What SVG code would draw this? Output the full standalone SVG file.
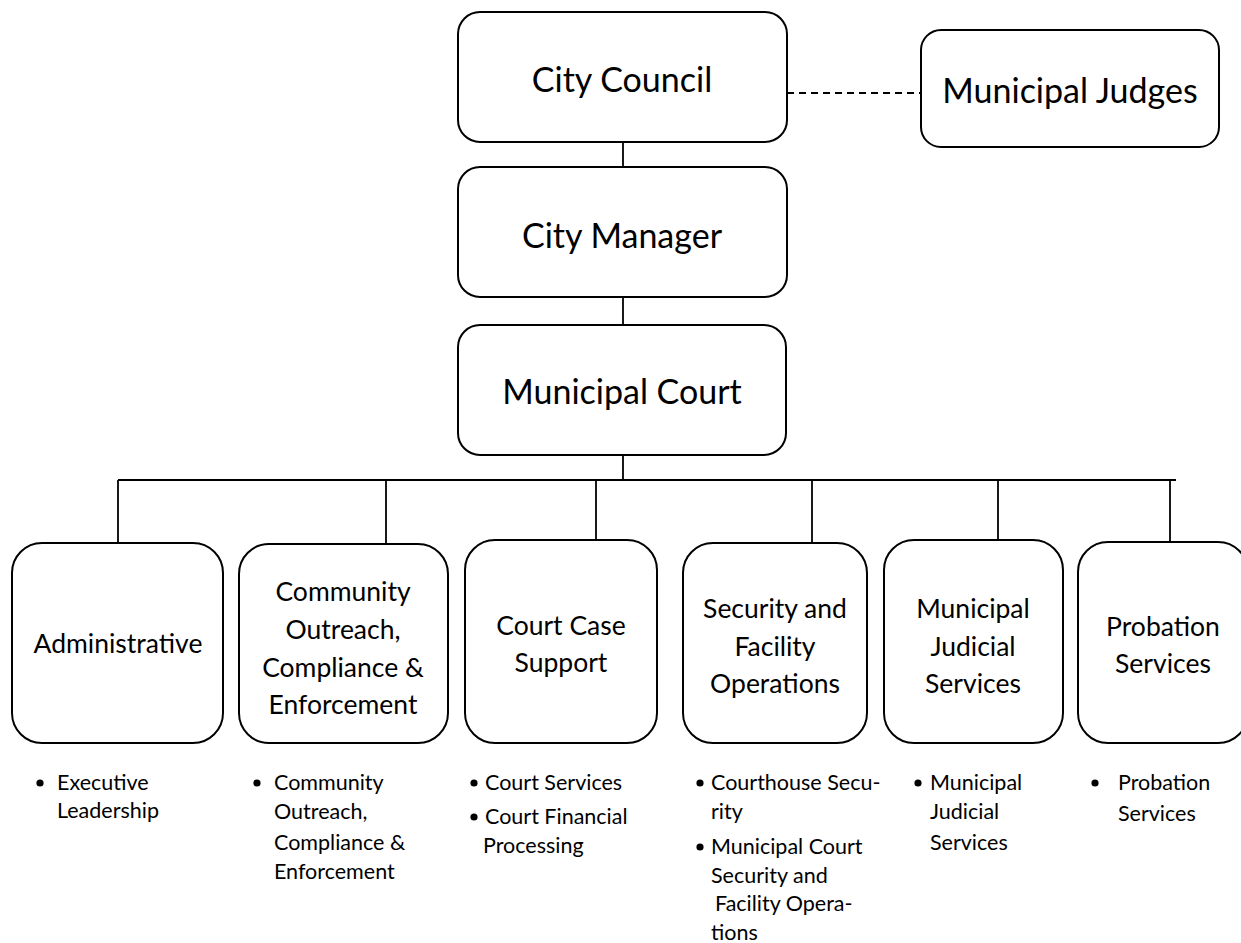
<svg xmlns="http://www.w3.org/2000/svg" width="1241" height="943" viewBox="0 0 1241 943">
  <style>
    .box { fill: #ffffff; stroke: #000000; stroke-width: 2; }
    .link { stroke: #000000; stroke-width: 1.8; fill: none; }
    .dash { stroke: #000000; stroke-width: 1.8; stroke-dasharray: 7 5; fill: none; }
    text { font-family: Lato, "Open Sans", sans-serif; fill: #000000; }
    .big { font-size: 34px; text-anchor: middle; }
    .mid { font-size: 26.5px; text-anchor: middle; }
    .small { font-size: 21.5px; }
    .dot { fill: #000000; }
  </style>
  <rect width="1241" height="943" fill="#ffffff"/>

  <!-- connectors -->
  <g id="connectors">
    <line class="dash" x1="787" y1="93" x2="921" y2="93"/>
    <line class="link" x1="623" y1="142" x2="623" y2="167"/>
    <line class="link" x1="623" y1="297" x2="623" y2="325"/>
    <line class="link" x1="623" y1="455" x2="623" y2="480"/>
    <line class="link" x1="118" y1="480" x2="1176" y2="480"/>
    <line class="link" x1="118" y1="480" x2="118" y2="543"/>
    <line class="link" x1="386" y1="481" x2="386" y2="544"/>
    <line class="link" x1="596" y1="481" x2="596" y2="540"/>
    <line class="link" x1="812" y1="481" x2="812" y2="543"/>
    <line class="link" x1="998" y1="481" x2="998" y2="540"/>
    <line class="link" x1="1170" y1="481" x2="1170" y2="542"/>
  </g>

  <!-- top chain -->
  <g id="city-council">
    <rect class="box" x="458" y="12" width="329" height="130" rx="22"/>
    <text class="big" x="622" y="92">City Council</text>
  </g>
  <g id="municipal-judges">
    <rect class="box" x="921" y="30" width="298" height="117" rx="20"/>
    <text class="big" x="1070" y="103">Municipal Judges</text>
  </g>
  <g id="city-manager">
    <rect class="box" x="458" y="167" width="329" height="130" rx="22"/>
    <text class="big" x="622" y="248">City Manager</text>
  </g>
  <g id="municipal-court">
    <rect class="box" x="458" y="325" width="328" height="130" rx="22"/>
    <text class="big" x="622" y="404">Municipal Court</text>
  </g>

  <!-- divisions -->
  <g id="administrative">
    <rect class="box" x="12" y="543" width="211" height="200" rx="30"/>
    <text class="mid" x="118" y="653">Administrative</text>
  </g>
  <g id="community-outreach">
    <rect class="box" x="239" y="544" width="209" height="199" rx="30"/>
    <text class="mid" x="343" y="601">Community</text>
    <text class="mid" x="343" y="639">Outreach,</text>
    <text class="mid" x="343" y="677">Compliance &amp;</text>
    <text class="mid" x="343" y="714">Enforcement</text>
  </g>
  <g id="court-case-support">
    <rect class="box" x="465" y="540" width="192" height="203" rx="30"/>
    <text class="mid" x="561" y="635">Court Case</text>
    <text class="mid" x="561" y="672">Support</text>
  </g>
  <g id="security-facility">
    <rect class="box" x="683" y="543" width="184" height="200" rx="30"/>
    <text class="mid" x="775" y="618">Security and</text>
    <text class="mid" x="775" y="656">Facility</text>
    <text class="mid" x="775" y="693">Operations</text>
  </g>
  <g id="municipal-judicial">
    <rect class="box" x="884" y="540" width="179" height="203" rx="30"/>
    <text class="mid" x="973" y="618">Municipal</text>
    <text class="mid" x="973" y="656">Judicial</text>
    <text class="mid" x="973" y="693">Services</text>
  </g>
  <g id="probation">
    <rect class="box" x="1078" y="542" width="170" height="201" rx="30"/>
    <text class="mid" x="1163" y="636">Probation</text>
    <text class="mid" x="1163" y="673">Services</text>
  </g>

  <!-- program lists -->
  <g id="list-administrative" class="small">
    <circle class="dot" cx="40" cy="783" r="3.6"/>
    <text x="57" y="790">Executive</text>
    <text x="57" y="818">Leadership</text>
  </g>
  <g id="list-community" class="small">
    <circle class="dot" cx="257" cy="783" r="3.6"/>
    <text x="274" y="790">Community</text>
    <text x="274" y="819">Outreach,</text>
    <text x="274" y="850">Compliance &amp;</text>
    <text x="274" y="879">Enforcement</text>
  </g>
  <g id="list-court-case" class="small">
    <circle class="dot" cx="474" cy="783" r="3.6"/>
    <text x="485" y="790">Court Services</text>
    <circle class="dot" cx="474" cy="817" r="3.6"/>
    <text x="485" y="824">Court Financial</text>
    <text x="483" y="853">Processing</text>
  </g>
  <g id="list-security" class="small">
    <circle class="dot" cx="700" cy="783" r="3.6"/>
    <text x="711" y="790">Courthouse Secu-</text>
    <text x="711" y="819">rity</text>
    <circle class="dot" cx="700" cy="847" r="3.6"/>
    <text x="711" y="854">Municipal Court</text>
    <text x="711" y="883">Security and</text>
    <text x="715" y="911">Facility Opera-</text>
    <text x="711" y="940">tions</text>
  </g>
  <g id="list-judicial" class="small">
    <circle class="dot" cx="918" cy="783" r="3.6"/>
    <text x="930" y="790">Municipal</text>
    <text x="930" y="819">Judicial</text>
    <text x="930" y="850">Services</text>
  </g>
  <g id="list-probation" class="small">
    <circle class="dot" cx="1095" cy="783" r="3.6"/>
    <text x="1118" y="790">Probation</text>
    <text x="1118" y="821">Services</text>
  </g>
</svg>
